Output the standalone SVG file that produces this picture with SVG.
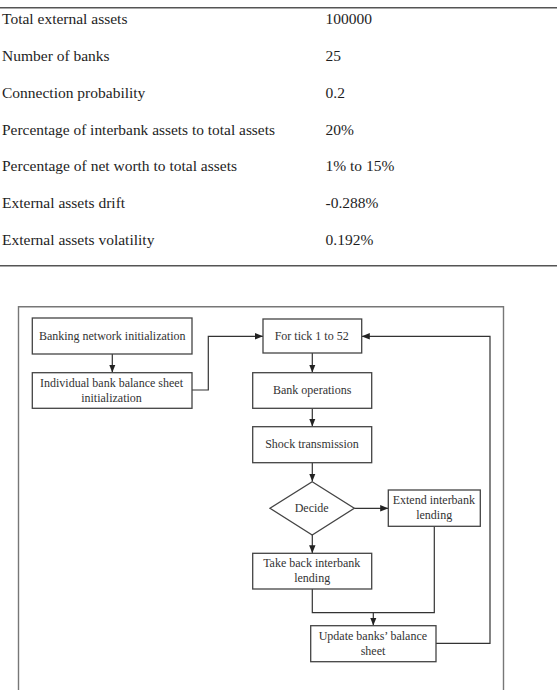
<svg xmlns="http://www.w3.org/2000/svg" width="557" height="690" viewBox="0 0 557 690">
<style>
.t{font-family:"Liberation Serif","Times New Roman",serif;font-size:15.5px;fill:#1e1e1e}
.f{font-family:"Liberation Serif","Times New Roman",serif;font-size:12px;fill:#333;text-anchor:middle}
.rule{stroke:#555;stroke-width:1.4;fill:none}
.box{fill:#fff;stroke:#444;stroke-width:1.3}
.con{fill:none;stroke:#333;stroke-width:1.2}
</style>
<defs>
<marker id="ah" markerUnits="userSpaceOnUse" markerWidth="8" markerHeight="8" viewBox="0 0 8 8" refX="8" refY="4" orient="auto">
<path d="M0,0.8 L8,4 L0,7.2 Z" fill="#222"/>
</marker>
</defs>
<rect width="557" height="690" fill="#fff"/>
<g id="table">
<line class="rule" x1="0" y1="7.8" x2="557" y2="7.8"/>
<line class="rule" x1="0" y1="265.8" x2="557" y2="265.8"/>
<text class="t" x="2" y="24">Total external assets</text>
<text class="t" x="325.5" y="24">100000</text>
<text class="t" x="2" y="60.8">Number of banks</text>
<text class="t" x="325.5" y="60.8">25</text>
<text class="t" x="2" y="97.7">Connection probability</text>
<text class="t" x="325.5" y="97.7">0.2</text>
<text class="t" x="2" y="134.5" textLength="273" lengthAdjust="spacingAndGlyphs">Percentage of interbank assets to total assets</text>
<text class="t" x="325.5" y="134.5">20%</text>
<text class="t" x="2" y="171.3">Percentage of net worth to total assets</text>
<text class="t" x="325.5" y="171.3">1% to 15%</text>
<text class="t" x="2" y="208.2">External assets drift</text>
<text class="t" x="325.5" y="208.2">-0.288%</text>
<text class="t" x="2" y="245">External assets volatility</text>
<text class="t" x="325.5" y="245">0.192%</text>
</g>
<g id="frame">
<path d="M18.5,692 L18.5,306.7 L503.5,306.7 L503.5,692" fill="none" stroke="#777" stroke-width="1.4"/>
</g>
<g id="connectors">
<line class="con" x1="112.3" y1="354" x2="112.3" y2="372.5" marker-end="url(#ah)"/>
<path class="con" d="M192,390 L208.3,390 L208.3,336.3 L263,336.3" marker-end="url(#ah)"/>
<line class="con" x1="312.3" y1="353" x2="312.3" y2="372.5" marker-end="url(#ah)"/>
<line class="con" x1="312.3" y1="408.3" x2="312.3" y2="426.5" marker-end="url(#ah)"/>
<line class="con" x1="312.3" y1="462.7" x2="312.3" y2="481.5" marker-end="url(#ah)"/>
<line class="con" x1="354.3" y1="508.3" x2="388.2" y2="508.3" marker-end="url(#ah)"/>
<line class="con" x1="312.3" y1="535" x2="312.3" y2="553.2" marker-end="url(#ah)"/>
<path class="con" d="M312.3,589 L312.3,612.7 L434.3,612.7 L434.3,526.3"/>
<line class="con" x1="373.3" y1="612.7" x2="373.3" y2="625.6" marker-end="url(#ah)"/>
<path class="con" d="M436,643.3 L490,643.3 L490,336.3 L361.8,336.3" marker-end="url(#ah)"/>
</g>
<g id="n-banking">
<rect class="box" x="32.3" y="318" width="159.7" height="36"/>
<text class="f" x="112.2" y="339.7">Banking network initialization</text>
</g>
<g id="n-individual">
<rect class="box" x="32.3" y="372.7" width="159.7" height="35.6"/>
<text class="f" x="111.5" y="386.5">Individual bank balance sheet</text>
<text class="f" x="111.5" y="401.7">initialization</text>
</g>
<g id="n-tick">
<rect class="box" x="263" y="319" width="98.7" height="34"/>
<text class="f" x="311.7" y="339.7">For tick 1 to 52</text>
</g>
<g id="n-bankops">
<rect class="box" x="252.7" y="372.7" width="119" height="35.6"/>
<text class="f" x="312.2" y="394">Bank operations</text>
</g>
<g id="n-shock">
<rect class="box" x="252.7" y="426.7" width="119" height="36"/>
<text class="f" x="312" y="448">Shock transmission</text>
</g>
<g id="n-decide">
<polygon class="box" points="312.2,481.7 354.3,508.3 312.2,535 270,508.3"/>
<text class="f" x="311.7" y="511.7">Decide</text>
</g>
<g id="n-extend">
<rect class="box" x="388.3" y="490" width="92" height="36.3"/>
<text class="f" x="433.8" y="504">Extend interbank</text>
<text class="f" x="434.2" y="519.3">lending</text>
</g>
<g id="n-takeback">
<rect class="box" x="252.7" y="553.3" width="119" height="35.7"/>
<text class="f" x="311.7" y="567.3">Take back interbank</text>
<text class="f" x="312.2" y="582.3">lending</text>
</g>
<g id="n-update">
<rect class="box" x="310.7" y="625.7" width="125.3" height="36"/>
<text class="f" x="372.9" y="639.7">Update banks’ balance</text>
<text class="f" x="373" y="654.7">sheet</text>
</g>
</svg>
